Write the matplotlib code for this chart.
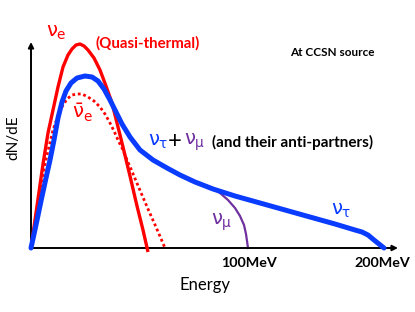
import matplotlib
matplotlib.use("Agg")
import matplotlib.pyplot as plt

plt.rcParams['font.family'] = ['Lato', 'DejaVu Sans']
plt.rcParams['mathtext.fontset'] = 'custom'
plt.rcParams['mathtext.rm'] = 'DejaVu Sans'
plt.rcParams['mathtext.it'] = 'DejaVu Sans'
plt.rcParams['mathtext.bf'] = 'DejaVu Sans:bold'

# schematic spectra, arbitrary units (energy, dN/dE)
e_nue = [0, 4, 8, 12, 17, 22, 27, 32, 37, 41, 45, 49, 53, 57, 63, 69, 75, 81, 87, 92, 99, 106, 112, 117]
f_nue = [0, 28, 56, 84, 115, 138, 161, 181, 193, 199, 203, 204, 202, 198, 190, 178, 162, 145, 121, 101, 72, 42, 18, -4]

e_nuebar = [0, 5, 10, 16, 22, 29, 36, 41, 46, 51, 57, 63, 69, 74, 79, 83, 87, 92, 96, 100, 108, 117, 125, 134]
f_nuebar = [0, 33, 63, 93, 118, 138, 149, 153, 154, 154, 151, 147, 141, 134, 125, 117, 108, 98, 88, 79, 60, 39, 21, 0]

e_nux = [0, 5, 10, 15, 19, 23, 27, 31, 35, 40, 46, 54, 61, 67, 73, 79, 85, 91, 99, 109, 122, 136,
         149, 164, 182, 204, 229, 254, 279, 304, 324, 331, 337, 343, 348, 353]
f_nux = [0, 23, 47, 70, 88, 108, 130, 146, 157, 165, 170, 172, 171, 167, 159, 148, 136, 124, 111, 98, 88, 80,
         73, 66, 59, 52, 45, 38, 31, 24, 18, 16, 13, 8, 4, 0]

e_numu = [159, 169, 179, 189, 197, 204, 209, 213, 215, 216, 217]
f_numu = [67, 65, 61, 55, 48, 40, 32, 23, 14, 7, 0]

tick_pos = [218, 351]
tick_lab = ['100MeV', '200MeV']

red = '#ff0000'
blue = '#0a3cff'
purple = '#7030a0'

fig = plt.figure(figsize=(4.15, 3.12), dpi=100)
ax = fig.add_axes([0, 0, 1, 1])
ax.set_xlim(-31, 384)
ax.set_ylim(-64, 248)
ax.axis('off')

# axes arrows
ax.annotate('', xy=(367, 0), xytext=(0, 0),
            arrowprops=dict(arrowstyle='-|>', lw=1.4, color='black', mutation_scale=8, shrinkA=0, shrinkB=0))
ax.annotate('', xy=(0, 206), xytext=(0, 0),
            arrowprops=dict(arrowstyle='-|>', lw=1.4, color='black', mutation_scale=8, shrinkA=0, shrinkB=0))

ax.plot(e_numu, f_numu, color=purple, lw=1.6, zorder=2)
ax.plot(e_nuebar, f_nuebar, color=red, lw=2.0, ls=(0, (1, 1)), zorder=3)
ax.plot(e_nue, f_nue, color=red, lw=2.4, zorder=3, solid_capstyle='butt')
ax.plot(e_nux, f_nux, color=blue, lw=3.6, zorder=4, solid_capstyle='round')

for x, lab in zip(tick_pos, tick_lab):
    ax.text(x, -15, lab, ha='center', va='center', fontsize=10.3, fontweight='bold')

ax.text(174, -37, 'Energy', ha='center', va='center', fontsize=12)
ax.text(-18, 110, 'dN/dE', ha='center', va='center', fontsize=11, rotation=90)

ax.text(25, 215, r'$\nu_{\mathrm{e}}$', color=red, ha='center', va='center', fontsize=14)
ax.text(117, 205, '(Quasi-thermal)', color=red, ha='center', va='center', fontsize=10.8, fontweight='bold')
ax.text(301, 196, 'At CCSN source', ha='center', va='center', fontsize=8.5, fontweight='bold')
ax.text(51, 135, r'$\bar{\nu}_{\mathrm{e}}$', color=red, ha='center', va='center', fontsize=14)

ax.text(127, 106, r'$\nu_{\tau}$', color=blue, ha='center', va='center', fontsize=14)
ax.text(144, 106, '+', color='black', ha='center', va='center', fontsize=17)
ax.text(164, 106, r'$\nu_{\mu}$', color=purple, ha='center', va='center', fontsize=14)
ax.text(181, 106, '(and their anti-partners)', ha='left', va='center', fontsize=11, fontweight='bold')

ax.text(191, 26, r'$\nu_{\mu}$', color=purple, ha='center', va='center', fontsize=14)
ax.text(310, 37, r'$\nu_{\tau}$', color=blue, ha='center', va='center', fontsize=14)

fig.savefig('out.png', dpi=100)
